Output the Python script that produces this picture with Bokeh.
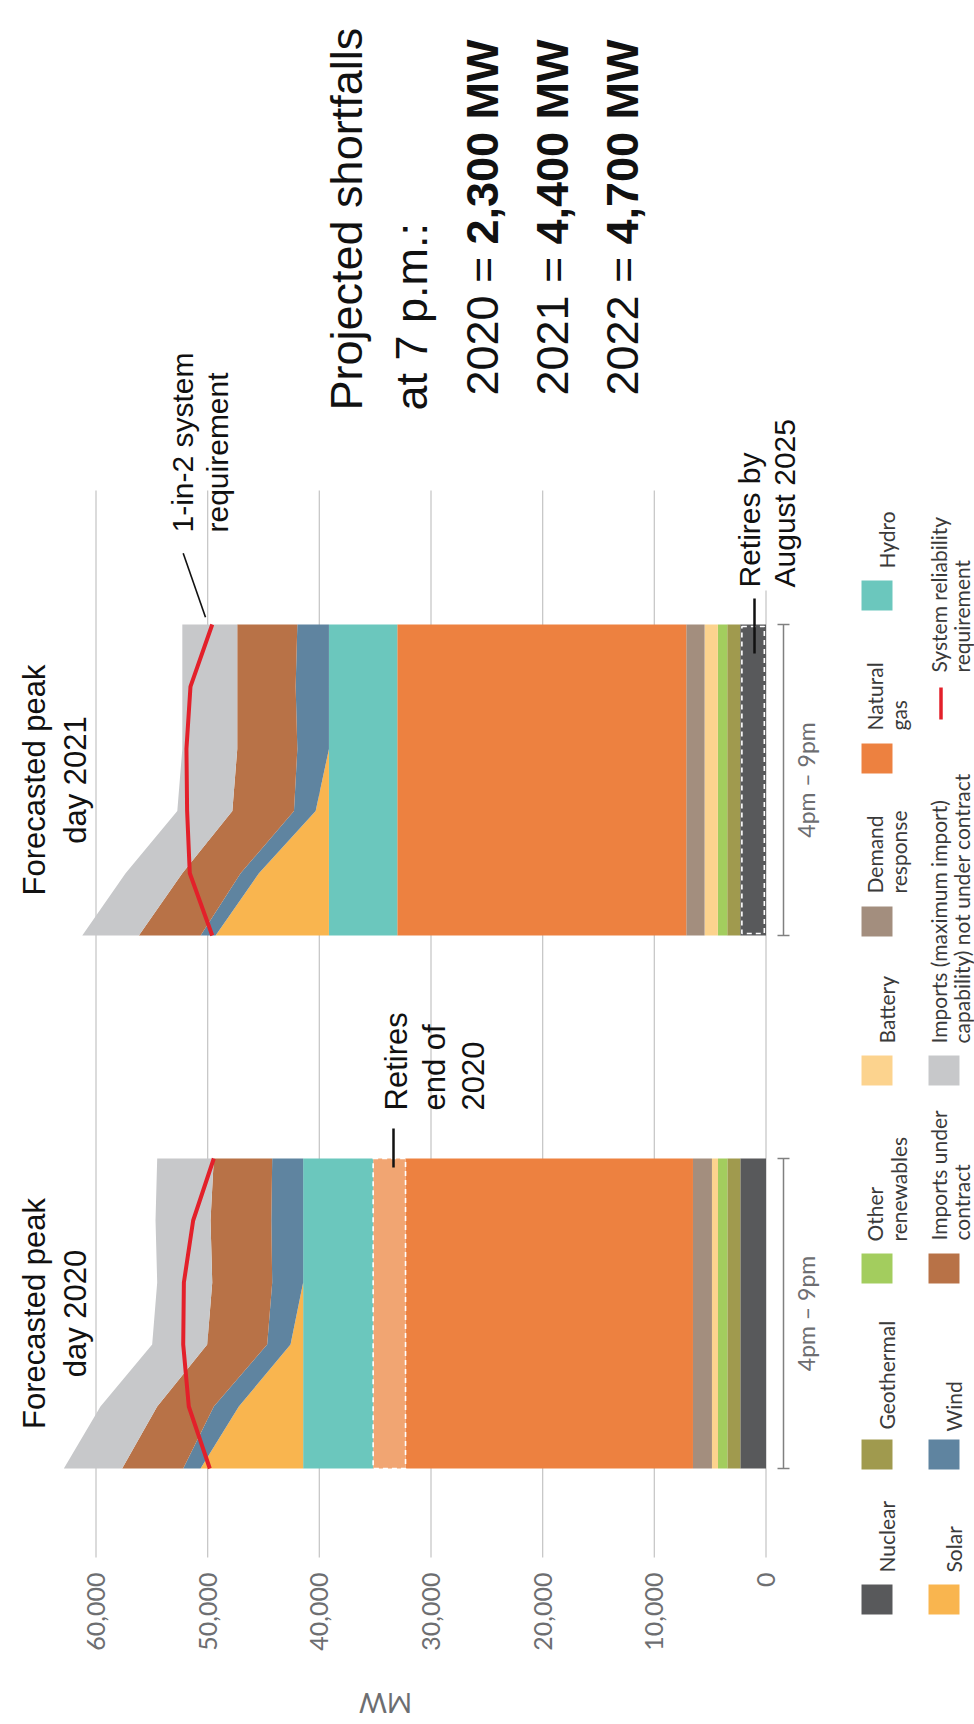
from math import pi
from bokeh.plotting import figure
from bokeh.models import Range1d, ColumnDataSource
from bokeh.core.properties import value
from bokeh.embed import file_html
from bokeh.resources import INLINE

# ---------------- data (MW) ----------------
years = ["2020", "2021"]
hours = [16, 17, 18, 19, 20, 21]          # 4pm ... 9pm

# flat resources, one value per year [2020, 2021]
nuclear = [2300, 2310]
geothermal = [1160, 1160]
other_renewables = [840, 840]
battery = [540, 1190]
demand_response = [1700, 1640]
natural_gas = [25740, 25880]
gas_retiring_2020 = [2900, 0]
hydro = [6270, 6120]

# hourly resources, 4pm..9pm
solar_2020 = [9190, 5760, 1130, 0, 0, 0]
wind_2020 = [1550, 2240, 2090, 2770, 2850, 2770]
imports_contract_2020 = [5470, 5070, 5370, 5370, 5445, 5230]
imports_uncontracted_2020 = [5220, 5080, 4930, 4930, 4925, 5070]
requirement_2020 = [49810, 51690, 52190, 52130, 51300, 49450]

solar_2021 = [10150, 6270, 1190, 0, 0, 0]
wind_2021 = [1340, 1640, 1940, 2830, 2980, 2830]
imports_contract_2021 = [5530, 5220, 5520, 5380, 5230, 5380]
imports_uncontracted_2021 = [5070, 5080, 4930, 4920, 4920, 4920]
requirement_2021 = [49590, 51600, 51840, 51900, 51540, 49590]

mw_ticks = [0, 10000, 20000, 30000, 40000, 50000, 60000]
tick_labels = ["0", "10,000", "20,000", "30,000", "40,000", "50,000", "60,000"]

shortfall_years = ["2020", "2021", "2022"]
shortfall_values = ["2,300 MW", "4,400 MW", "4,700 MW"]

legend_labels = [
    ["Nuclear"], ["Geothermal"], ["Other", "renewables"], ["Battery"],
    ["Demand", "response"], ["Natural", "gas"], ["Hydro"],
    ["Solar"], ["Wind"], ["Imports under", "contract"],
    ["Imports (maximum import)", "capability) not under contract"],
    ["System reliability", "requirement"],
]

# ---------------- styles / layout ----------------
series_keys = ["nuc", "geo", "oth", "bat", "dr", "gas", "ret", "hyd", "sol", "wnd", "impc", "impu"]
series_colors = ["#58595b", "#a09a4e", "#a3cd5e", "#fcd38e", "#a38e7e", "#ed8140",
                 "#f1a572", "#6bc7bd", "#f9b54f", "#5f84a0", "#b87247", "#c7c8ca"]
legend_colors = ["#58595b", "#a09a4e", "#a3cd5e", "#fcd38e", "#a38e7e", "#ed8140",
                 "#6bc7bd", "#f9b54f", "#5f84a0", "#b87247", "#c7c8ca", "#e3202a"]
legend_row = [0] * 7 + [1] * 5
legend_row_x = [876.5, 943.5]
legend_line_offsets = [[-3, 21], [-6, 17]]
legend_center_y = [1599, 1454, 1268, 1070, 921, 758, 595, 1599, 1454, 1268, 1070, 703]
legend_text_start = [1572, 1429, 1241, 1043, 893, 730, 568, 1572, 1431, 1240, 1043, 672]

RED = "#e3202a"
W, H = 974, 1724
PX0 = 765.5                 # pixel column of 0 MW
K = 670.0 / 60000.0         # pixels per MW
panel_bottom = {"2020": 1468, "2021": 935}
panel_top = {"2020": 1158, "2021": 624}


def X(px):
    return (PX0 - px) / K


def Y(py):
    return H - py


p = figure(width=W, height=H, x_range=Range1d(X(0), X(W)), y_range=Range1d(0, H),
           output_backend="svg", toolbar_location=None,
           x_axis_location=None, y_axis_location=None, min_border=0,
           outline_line_color=None, background_fill_color="white",
           border_fill_color="white")
p.xgrid.visible = False
p.ygrid.visible = False

# grid lines (vertical in the rotated chart)
grid_top = [590 if t == 0 else 490 for t in mw_ticks]
p.segment(x0=mw_ticks, x1=mw_ticks, y0=[Y(v) for v in grid_top],
          y1=[Y(1557)] * len(mw_ticks), line_color="#c8c8c8", line_width=1.3)

hourly = {
    "2020": [solar_2020, wind_2020, imports_contract_2020, imports_uncontracted_2020, requirement_2020],
    "2021": [solar_2021, wind_2021, imports_contract_2021, imports_uncontracted_2021, requirement_2021],
}

for i, yr in enumerate(years):
    b, t = panel_bottom[yr], panel_top[yr]
    step = (b - t) / (hours[-1] - hours[0])
    ys = [Y(b - (h - hours[0]) * step) for h in hours]
    sol, wnd, impc, impu, req = hourly[yr]
    n = len(hours)
    data = dict(y=ys,
                nuc=[nuclear[i]] * n, geo=[geothermal[i]] * n, oth=[other_renewables[i]] * n,
                bat=[battery[i]] * n, dr=[demand_response[i]] * n, gas=[natural_gas[i]] * n,
                ret=[gas_retiring_2020[i]] * n, hyd=[hydro[i]] * n,
                sol=sol, wnd=wnd, impc=impc, impu=impu)
    src = ColumnDataSource(data)
    p.harea_stack(stackers=series_keys, y="y", color=series_colors, source=src)

    # dashed outlines for retiring resources
    if gas_retiring_2020[i] > 0:
        left = nuclear[i] + geothermal[i] + other_renewables[i] + battery[i] + demand_response[i] + natural_gas[i]
        p.quad(left=[left], right=[left + gas_retiring_2020[i]], bottom=[Y(b)], top=[Y(t)],
               fill_alpha=0, line_color="white", line_dash="5 4", line_width=1.6)
    else:
        p.quad(left=[150], right=[nuclear[i] - 150], bottom=[Y(b) + 2], top=[Y(t) - 2],
               fill_alpha=0, line_color="white", line_dash="5 4", line_width=1.6)

    # system reliability requirement
    p.line(x=req, y=ys, line_color=RED, line_width=4)

    # 4pm - 9pm bracket
    p.segment(x0=[X(783), X(777), X(777)], x1=[X(783), X(789), X(789)],
              y0=[Y(t), Y(t), Y(b)], y1=[Y(b), Y(t), Y(b)],
              line_color="#808080", line_width=1.5)
    p.text(x=[X(805)], y=[Y((b + t) / 2)], text=["4pm \u2013 9pm"], angle=pi / 2,
           text_font=value("Lato"), text_font_size="23px", text_color="#6d6e71",
           text_align="center", text_baseline="alphabetic")

    # panel title
    for line, bx in zip(["Forecasted peak", "day " + yr], [34, 75]):
        p.text(x=[X(bx)], y=[Y((b + t) / 2)], text=[line], angle=pi / 2,
               text_font=value("Liberation Sans"), text_font_size="31px",
               text_color="#111111", text_align="center", text_baseline="alphabetic")

# axis tick labels and title
p.text(x=mw_ticks, y=[Y(1572)] * len(mw_ticks), text=tick_labels, angle=pi / 2,
       text_font=value("Lato"), text_font_size="25px", text_color="#6d6e71",
       text_align="right", text_baseline="middle")
p.text(x=[X(385)], y=[Y(1703)], text=["MW"], angle=pi,
       text_font=value("Lato"), text_font_size="27px", text_color="#6d6e71",
       text_align="center", text_baseline="middle")


def note(lines, baselines, start_py, size=31, color="#111111"):
    for s, bx in zip(lines, baselines):
        p.text(x=[X(bx)], y=[Y(start_py)], text=[s], angle=pi / 2,
               text_font=value("Liberation Sans"), text_font_size=f"{size}px",
               text_color=color, text_align="left", text_baseline="alphabetic")


# annotations
note(["Retires", "end of", "2020"], [396, 434, 472], 1110)
p.segment(x0=[X(393)], x1=[X(393)], y0=[Y(1128)], y1=[Y(1167)], line_color="#111111", line_width=2.5)

note(["1-in-2 system", "requirement"], [182, 217], 532, size=30)
p.segment(x0=[X(182.7)], x1=[X(205)], y0=[Y(552.7)], y1=[Y(616.7)], line_color="#111111", line_width=1.6)

note(["Retires by", "August 2025"], [749, 784], 587, size=30)
p.segment(x0=[X(754)], x1=[X(754)], y0=[Y(598)], y1=[Y(653)], line_color="#111111", line_width=2.5)

# shortfall box
note(["Projected shortfalls", "at 7 p.m.:"], [346, 411], 410, size=45)
for yr, val, bx in zip(shortfall_years, shortfall_values, [482, 552, 622]):
    p.text(x=[X(bx)], y=[Y(395)], text=[yr + " = "], angle=pi / 2,
           text_font=value("Liberation Sans"), text_font_size="45px", text_color="#111111",
           text_align="left", text_baseline="alphabetic")
    p.text(x=[X(bx)], y=[Y(244)], text=[val], angle=pi / 2,
           text_font=value("Liberation Sans"), text_font_size="45px", text_color="#111111",
           text_align="left", text_baseline="alphabetic", text_font_style="bold")

# legend
for lab, col, row, cy, ts in zip(legend_labels, legend_colors, legend_row, legend_center_y, legend_text_start):
    cx = legend_row_x[row]
    if col == RED:
        p.segment(x0=[X(cx - 3)], x1=[X(cx - 3)], y0=[Y(cy - 16)], y1=[Y(cy + 16)],
                  line_color=RED, line_width=3.5)
    else:
        p.quad(left=[X(cx - 15.5)], right=[X(cx + 15.5)], bottom=[Y(cy + 15)], top=[Y(cy - 15)],
               fill_color=col, line_color=None)
    offsets = [9.5] if len(lab) == 1 else legend_line_offsets[row]
    for s, off in zip(lab, offsets):
        p.text(x=[X(cx + off)], y=[Y(ts)], text=[s], angle=pi / 2,
               text_font=value("Lato"), text_font_size="21px", text_color="#3a3a3a",
               text_align="left", text_baseline="alphabetic")

open("out.html", "w").write(file_html(p, INLINE))
